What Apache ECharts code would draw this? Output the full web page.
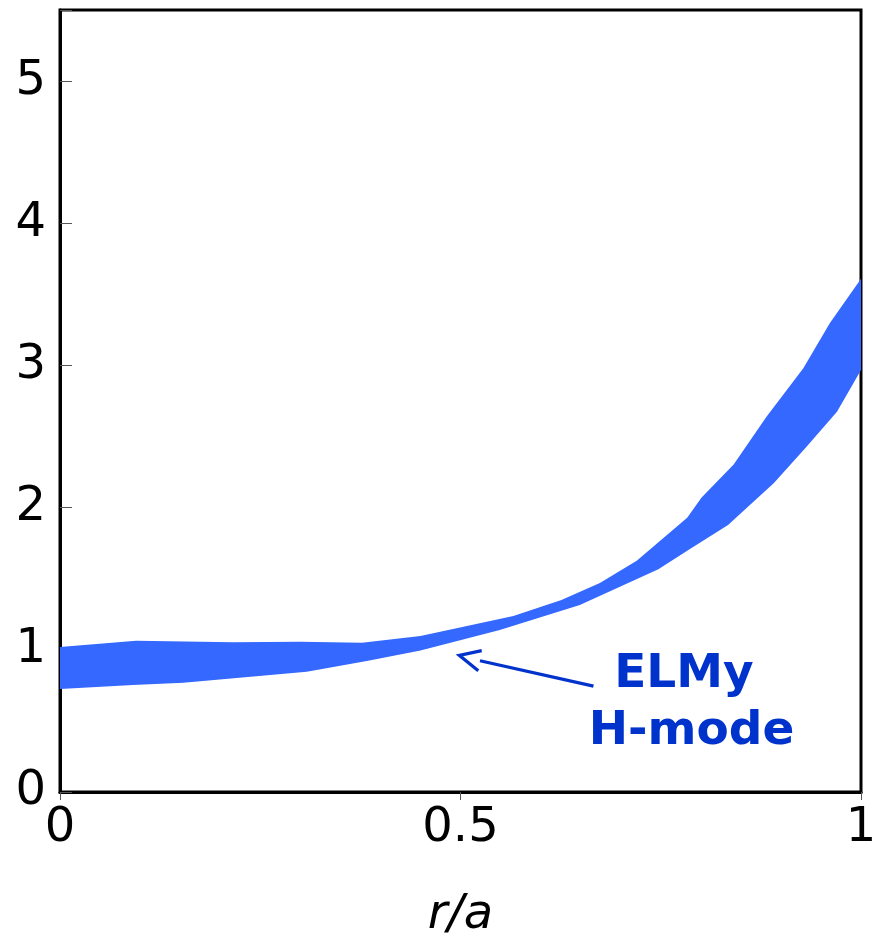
<!DOCTYPE html>
<html>
<head>
<meta charset="utf-8">
<script src="https://cdn.jsdelivr.net/npm/echarts@6/dist/echarts.min.js"></script>
<style>
  html, body { margin: 0; padding: 0; background: #fff; }
  #chart { width: 875px; height: 936px; }
</style>
</head>
<body>
<div id="chart"></div>
<script>
// Upper edge of the ELMy H-mode band (r/a, value)
const upperR = [0, 0.095, 0.216, 0.30, 0.377, 0.45, 0.566, 0.626, 0.674, 0.72, 0.783, 0.801, 0.841, 0.882, 0.928, 0.961, 1.0];
const upperV = [1.02, 1.064, 1.053, 1.057, 1.05, 1.097, 1.238, 1.35, 1.47, 1.627, 1.929, 2.072, 2.304, 2.639, 2.98, 3.296, 3.61];
// Lower edge of the band
const lowerR = [0, 0.091, 0.154, 0.308, 0.383, 0.45, 0.549, 0.649, 0.747, 0.784, 0.834, 0.891, 0.932, 0.970, 1.0];
const lowerV = [0.724, 0.752, 0.769, 0.846, 0.921, 0.995, 1.139, 1.315, 1.566, 1.70, 1.878, 2.171, 2.428, 2.674, 2.968];

const xTicks = [0, 0.5, 1];
const yTicks = [0, 1, 2, 3, 4, 5];
const bandLabel = ['ELMy', 'H-mode'];

const FONT = 'DejaVu Sans';
const BAND_COLOR = '#3468fe';
const NOTE_COLOR = '#0033cc';

// arrow / label anchors in data coordinates
const arrowTail = [0.666, 0.745];
const arrowShaftEnd = [0.5243, 0.923];
const arrowTip = [0.4985, 0.961];
const arrowWingA = [0.5265, 0.994];
const arrowWingB = [0.5222, 0.853];
const labelAnchor = [0.779, 0.823];

const chart = echarts.init(document.getElementById('chart'), null, { renderer: 'canvas' });

function bandPolygon(params, api) {
  const pts = [];
  for (let i = 0; i < upperR.length; i++) pts.push(api.coord([upperR[i], upperV[i]]));
  for (let i = lowerR.length - 1; i >= 0; i--) pts.push(api.coord([lowerR[i], lowerV[i]]));
  return {
    type: 'polygon',
    shape: { points: pts },
    style: { fill: BAND_COLOR, stroke: null }
  };
}

function annotation(params, api) {
  const tail = api.coord(arrowTail);
  const shaftEnd = api.coord(arrowShaftEnd);
  const tip = api.coord(arrowTip);
  const wa = api.coord(arrowWingA);
  const wb = api.coord(arrowWingB);
  const lab = api.coord(labelAnchor);
  const labelFont = 'bold 47px "' + FONT + '"';
  return {
    type: 'group',
    children: [
      { type: 'line', shape: { x1: tail[0], y1: tail[1], x2: shaftEnd[0], y2: shaftEnd[1] },
        style: { stroke: NOTE_COLOR, lineWidth: 3.2 } },
      { type: 'polyline', shape: { points: [wa, tip, wb] },
        style: { stroke: NOTE_COLOR, lineWidth: 3.2, fill: null } },
      { type: 'text', x: lab[0], y: lab[1],
        style: { text: bandLabel[0], fill: NOTE_COLOR, font: labelFont,
                 align: 'center', verticalAlign: 'middle' } },
      { type: 'text', x: lab[0] + 7.5, y: lab[1] + 57,
        style: { text: bandLabel[1], fill: NOTE_COLOR, font: labelFont,
                 align: 'center', verticalAlign: 'middle' } }
    ]
  };
}

chart.setOption({
  animation: false,
  backgroundColor: '#fff',
  grid: {
    left: 60, top: 10, width: 801, height: 782,
    containLabel: false, outerBoundsMode: 'none',
    show: true, borderColor: '#000', borderWidth: 3, backgroundColor: 'transparent'
  },
  xAxis: {
    type: 'value', min: 0, max: 1, interval: 0.5,
    name: 'r/a', nameLocation: 'middle', nameGap: 100,
    nameTextStyle: { fontFamily: FONT, fontSize: 48, fontStyle: 'italic', color: '#000' },
    axisLine: { show: true, lineStyle: { color: '#000', width: 3 } },
    axisTick: { show: true, inside: false, length: 8, lineStyle: { color: '#555', width: 1 } },
    axisLabel: {
      fontFamily: FONT, fontSize: 48, color: '#000', margin: 13,
      formatter: v => (xTicks.indexOf(v) >= 0 ? String(v) : '')
    },
    splitLine: { show: false }
  },
  yAxis: {
    type: 'value', min: 0, max: 5.5, interval: 1,
    axisLine: { show: true, lineStyle: { color: '#000', width: 3 } },
    axisTick: { show: true, inside: true, length: 12, lineStyle: { color: '#555', width: 1 } },
    axisLabel: {
      fontFamily: FONT, fontSize: 48, color: '#000', margin: 14,
      formatter: v => (yTicks.indexOf(v) >= 0 ? String(v) : '')
    },
    splitLine: { show: false }
  },
  series: [
    { type: 'custom', renderItem: bandPolygon, data: [0], clip: true, silent: true },
    { type: 'custom', renderItem: annotation, data: [0], clip: false, silent: true, z: 5 }
  ]
});
</script>
</body>
</html>
